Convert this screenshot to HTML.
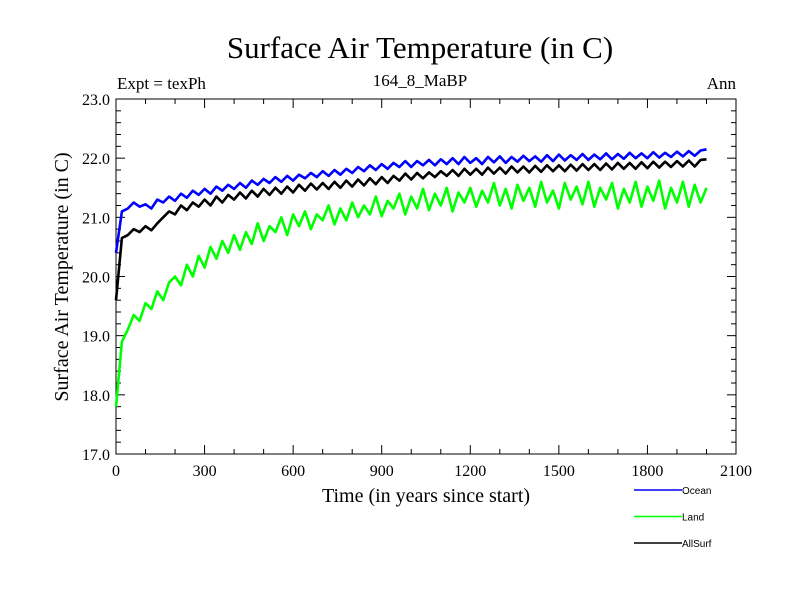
<!DOCTYPE html>
<html><head><meta charset="utf-8"><style>
body{margin:0;background:#fff}
svg text{font-family:"Liberation Serif",serif;fill:#000}
</style></head><body>
<svg id="chart" width="800" height="600">
<rect width="800" height="600" fill="#fff"/>
<text x="420" y="58" font-size="31" text-anchor="middle">Surface Air Temperature (in C)</text>
<text x="117" y="89" font-size="17">Expt = texPh</text>
<text x="420" y="86" font-size="17" text-anchor="middle">164_8_MaBP</text>
<text x="736" y="89" font-size="17" text-anchor="end">Ann</text>
<text transform="translate(68,277) rotate(-90)" font-size="20" text-anchor="middle">Surface Air Temperature (in C)</text>
<text x="426" y="502" font-size="20" text-anchor="middle">Time (in years since start)</text>
<g id="axes"></g>
<g id="series"></g>
<g id="legend"></g>
</svg>
<script>
const years = Array.from({length:101},(_, i)=>i*20);
const xTicks = [0,300,600,900,1200,1500,1800,2100];
const yTicks = [17,18,19,20,21,22,23];
const seriesNames = ["Ocean","Land","AllSurf"];
const seriesColors = ["#0000ff","#00ff00","#000000"];
const ocean = [20.40,21.10,21.15,21.25,21.18,21.22,21.15,21.30,21.25,21.35,
21.28,21.40,21.33,21.45,21.38,21.48,21.40,21.52,21.45,21.55,
21.48,21.58,21.50,21.62,21.55,21.65,21.58,21.68,21.60,21.70,
21.62,21.72,21.66,21.75,21.68,21.78,21.70,21.80,21.72,21.82,
21.75,21.85,21.78,21.88,21.80,21.90,21.82,21.92,21.85,21.95,
21.85,21.95,21.88,21.97,21.88,21.98,21.90,22.00,21.90,22.02,
21.92,22.00,21.90,22.02,21.93,22.03,21.92,22.02,21.94,22.04,
21.95,22.03,21.94,22.05,21.95,22.06,21.96,22.05,21.97,22.07,
21.97,22.06,21.98,22.08,21.98,22.07,21.99,22.09,22.00,22.08,
22.00,22.10,22.01,22.09,22.02,22.11,22.03,22.12,22.04,22.13,22.15];
const land = [17.80,18.90,19.10,19.35,19.25,19.55,19.45,19.75,19.60,19.90,
20.00,19.85,20.20,20.00,20.35,20.15,20.50,20.30,20.60,20.40,
20.70,20.45,20.75,20.55,20.90,20.60,20.85,20.75,21.00,20.70,
21.05,20.85,21.10,20.80,21.05,20.95,21.20,20.88,21.15,20.95,
21.25,21.00,21.20,21.05,21.35,21.02,21.28,21.15,21.40,21.05,
21.35,21.15,21.48,21.12,21.40,21.20,21.50,21.10,21.42,21.25,
21.50,21.18,21.45,21.25,21.58,21.20,21.48,21.15,21.55,21.28,
21.50,21.18,21.60,21.25,21.45,21.15,21.58,21.30,21.52,21.22,
21.60,21.18,21.50,21.30,21.58,21.15,21.48,21.25,21.60,21.18,
21.52,21.28,21.62,21.15,21.50,21.25,21.60,21.18,21.55,21.25,21.50];
const allSurf = [19.60,20.65,20.70,20.80,20.75,20.85,20.78,20.90,21.00,21.10,
21.05,21.20,21.12,21.25,21.18,21.30,21.20,21.35,21.25,21.38,
21.30,21.42,21.32,21.45,21.35,21.48,21.38,21.50,21.40,21.52,
21.42,21.55,21.45,21.57,21.47,21.58,21.48,21.60,21.50,21.62,
21.52,21.64,21.54,21.66,21.56,21.68,21.58,21.70,21.62,21.74,
21.64,21.75,21.66,21.76,21.68,21.78,21.70,21.80,21.70,21.82,
21.72,21.82,21.72,21.84,21.74,21.84,21.74,21.86,21.76,21.86,
21.76,21.87,21.77,21.88,21.78,21.88,21.78,21.89,21.79,21.90,
21.80,21.90,21.80,21.91,21.81,21.92,21.82,21.92,21.82,21.93,
21.83,21.94,21.84,21.94,21.85,21.95,21.86,21.96,21.86,21.97,21.98];

const NS="http://www.w3.org/2000/svg";
const L=116,R=736,T=99,B=454;
const xS=v=>L+(v-0)/2100*(R-L);
const yS=v=>B-(v-17)/6*(B-T);
function mk(tag,attrs,parent){const e=document.createElementNS(NS,tag);for(const k in attrs)e.setAttribute(k,attrs[k]);parent.appendChild(e);return e;}
const axes=document.getElementById('axes');
const frame=mk('rect',{x:L,y:T,width:R-L,height:B-T,fill:'none',stroke:'#000','stroke-width':1},axes);


for(let v=0;v<=2100;v+=100){
  const major=v%300===0;const x=xS(v);const len=major?9:5;
  mk('line',{x1:x,y1:B,x2:x,y2:B-len,stroke:'#000'},axes);
  mk('line',{x1:x,y1:T,x2:x,y2:T+len,stroke:'#000'},axes);
}
for(let i=0;i<=30;i++){
  const v=17+i*0.2;const y=yS(v);const major=i%5===0;const len=major?9:5;
  mk('line',{x1:L,y1:y,x2:L+len,y2:y,stroke:'#000'},axes);
  mk('line',{x1:R,y1:y,x2:R-len,y2:y,stroke:'#000'},axes);
}
xTicks.forEach(v=>{const t=mk('text',{x:xS(v),y:B+22,'font-size':16,'text-anchor':'middle'},axes);t.textContent=v;

});
yTicks.forEach(v=>{const t=mk('text',{x:L-6,y:yS(v)+6,'font-size':16,'text-anchor':'end'},axes);t.textContent=v.toFixed(1);

});
const sg=document.getElementById('series');
[ocean,land,allSurf].forEach((vals,si)=>{
  const d=vals.map((v,i)=>(i?'L':'M')+xS(years[i]).toFixed(1)+','+yS(v).toFixed(1)).join('');
  const p=mk('path',{d:d,fill:'none',stroke:seriesColors[si],'stroke-width':2.6,'stroke-linejoin':'round'},sg);
  
  
});
const lg=document.getElementById('legend');
seriesNames.forEach((n,i)=>{
  const y=490+i*26.5;
  const l=mk('line',{x1:634,y1:y,x2:682,y2:y,stroke:seriesColors[i],'stroke-width':1.5},lg);
  
  
  const t=mk('text',{x:682,y:y+4,'font-size':10,style:'font-family:"Liberation Sans",sans-serif'},lg);t.textContent=n;
  
  
});
</script>
</body></html>
